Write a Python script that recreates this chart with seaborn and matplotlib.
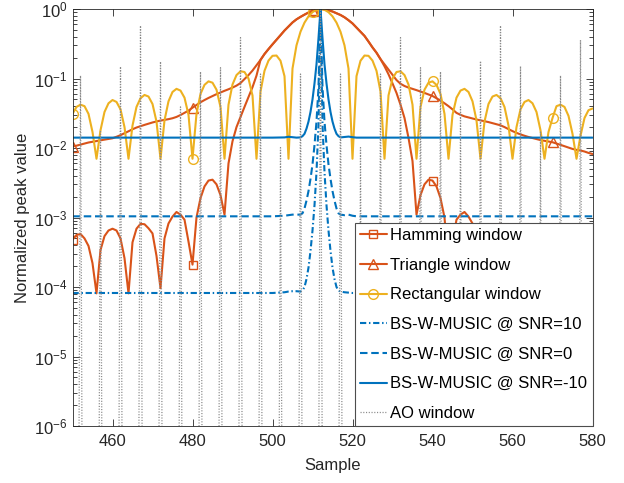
import numpy as np
import pandas as pd
import matplotlib
matplotlib.use("Agg")
import matplotlib.pyplot as plt
import seaborn as sns
from matplotlib.ticker import LogLocator, NullFormatter, FixedLocator, NullLocator

# ---- data ----
samples = np.arange(450, 581)

hamming = [
    4.8e-4, 5.6e-4, 5.8e-4, 5.0e-4, 3.9e-4, 2.2e-4, 8.1e-5, 3.4e-4, 5.4e-4, 6.5e-4,   # 450-459
    6.9e-4, 6.5e-4, 5.0e-4, 2.6e-4, 8.1e-5, 4.4e-4, 6.9e-4, 8.1e-4, 8.0e-4, 7.0e-4,   # 460-469
    5.9e-4, 2.8e-4, 9.6e-5, 5.0e-4, 8.2e-4, 1.03e-3, 1.2e-3, 1.1e-3, 9.3e-4, 4.5e-4,  # 470-479
    2.1e-4, 1.0e-3, 1.9e-3, 2.8e-3, 3.4e-3, 3.5e-3, 3.0e-3, 2.1e-3, 1.1e-3, 6.0e-3,   # 480-489
    1.25e-2, 2.0e-2, 2.8e-2, 3.9e-2, 5.4e-2, 7.5e-2, 0.11, 0.185, 0.225, 0.265,       # 490-499
    0.31, 0.36, 0.42, 0.49, 0.56, 0.64, 0.71, 0.77, 0.83, 0.89,                       # 500-509
    0.94, 0.98, 1.0, 0.99, 0.96, 0.92, 0.87, 0.82, 0.76, 0.69,                        # 510-519
    0.62, 0.54, 0.47, 0.41, 0.34, 0.28, 0.235, 0.19, 0.15, 0.115,                     # 520-529
    0.085, 0.062, 0.042, 0.027, 0.014, 0.0065, 1.1e-3, 2.1e-3, 3.0e-3, 3.5e-3,        # 530-539
    3.4e-3, 2.8e-3, 1.9e-3, 1.0e-3, 2.1e-4, 4.5e-4, 9.3e-4, 1.1e-3, 1.2e-3, 1.03e-3,  # 540-549
    8.2e-4, 5.0e-4, 9.6e-5, 2.8e-4, 5.9e-4, 7.0e-4, 8.0e-4, 8.1e-4, 6.9e-4, 4.4e-4,   # 550-559
    8.1e-5, 2.6e-4, 5.0e-4, 6.5e-4, 6.9e-4, 6.5e-4, 5.4e-4, 3.4e-4, 8.1e-5, 2.2e-4,   # 560-569
    3.9e-4, 5.0e-4, 5.8e-4, 5.6e-4, 4.8e-4, 3.0e-4, 8.0e-5, 2.5e-4, 4.0e-4, 4.8e-4,   # 570-579
    5.0e-4,                                                                             # 580
]

triangle = [
    0.0105, 0.0108, 0.0112, 0.0116, 0.0120, 0.0123, 0.0126, 0.0129, 0.0132, 0.0135,   # 450-459
    0.0138, 0.0145, 0.0153, 0.0163, 0.0174, 0.0186, 0.0197, 0.0206, 0.0215, 0.0224,   # 460-469
    0.0233, 0.0241, 0.0248, 0.0254, 0.0260, 0.0268, 0.0280, 0.0298, 0.0320, 0.0345,   # 470-479
    0.0380, 0.0415, 0.0455, 0.0490, 0.0525, 0.0560, 0.0595, 0.0630, 0.0665, 0.0700,   # 480-489
    0.0740, 0.0790, 0.0860, 0.0980, 0.112, 0.130, 0.155, 0.185, 0.225, 0.265,         # 490-499
    0.31, 0.36, 0.42, 0.49, 0.56, 0.64, 0.71, 0.77, 0.83, 0.89,                       # 500-509
    0.94, 0.98, 1.0, 0.99, 0.96, 0.92, 0.87, 0.82, 0.76, 0.69,                        # 510-519
    0.62, 0.54, 0.47, 0.41, 0.34, 0.28, 0.235, 0.19, 0.16, 0.135,                     # 520-529
    0.113, 0.095, 0.084, 0.078, 0.074, 0.071, 0.068, 0.065, 0.062, 0.059,             # 530-539
    0.056, 0.052, 0.048, 0.044, 0.040, 0.036, 0.032, 0.030, 0.0285, 0.0275,           # 540-549
    0.0265, 0.0257, 0.0250, 0.0243, 0.0236, 0.0228, 0.0220, 0.0212, 0.0200, 0.0187,   # 550-559
    0.0175, 0.0165, 0.0157, 0.0150, 0.0144, 0.0139, 0.0134, 0.0130, 0.0127, 0.0124,   # 560-569
    0.0121, 0.0116, 0.0111, 0.0106, 0.0101, 0.0097, 0.0094, 0.0092, 0.0089, 0.0085,   # 570-579
    0.0082,                                                                             # 580
]

rectangular = [
    0.031, 0.039, 0.042, 0.040, 0.031, 0.017, 0.007, 0.018, 0.033, 0.044,   # 450-459
    0.049, 0.046, 0.036, 0.020, 0.007, 0.021, 0.039, 0.052, 0.058, 0.055,   # 460-469
    0.043, 0.024, 0.007, 0.025, 0.047, 0.064, 0.071, 0.067, 0.053, 0.030,   # 470-479
    0.007, 0.031, 0.060, 0.081, 0.091, 0.087, 0.069, 0.039, 0.007, 0.042,   # 480-489
    0.082, 0.112, 0.127, 0.124, 0.100, 0.057, 0.007, 0.065, 0.129, 0.181,   # 490-499
    0.212, 0.214, 0.180, 0.108, 0.007, 0.139, 0.300, 0.471, 0.637, 0.784,   # 500-509
    0.900, 0.974, 1.000, 0.974, 0.900, 0.784, 0.637, 0.471, 0.300, 0.139,   # 510-519
    0.007, 0.108, 0.180, 0.214, 0.212, 0.181, 0.129, 0.065, 0.007, 0.057,   # 520-529
    0.100, 0.124, 0.127, 0.112, 0.082, 0.042, 0.007, 0.039, 0.069, 0.087,   # 530-539
    0.091, 0.081, 0.060, 0.031, 0.007, 0.030, 0.053, 0.067, 0.071, 0.064,   # 540-549
    0.047, 0.025, 0.007, 0.024, 0.043, 0.055, 0.058, 0.052, 0.039, 0.021,   # 550-559
    0.007, 0.020, 0.036, 0.046, 0.049, 0.044, 0.033, 0.018, 0.007, 0.017,   # 560-569
    0.027, 0.040, 0.042, 0.039, 0.029, 0.016, 0.007, 0.015, 0.027, 0.035,   # 570-579
    0.037,                                                                    # 580
]

music_x = [450, 480, 500, 503, 504, 505, 506, 507, 507.5, 508, 508.5, 509, 509.5,
           510, 510.5, 511, 511.5, 512, 512.5, 513, 513.5, 514, 514.5, 515, 515.5,
           516, 516.5, 517, 518, 519, 520, 521, 540, 580]
snr10 = [8.2e-5, 8.2e-5, 8.2e-5, 8.4e-5, 8.6e-5, 8.7e-5, 8.7e-5, 8.6e-5, 8.9e-5, 1.0e-4,
         1.3e-4, 1.9e-4, 3.3e-4, 6.5e-4, 1.5e-3, 4.5e-3, 0.022, 1.0, 0.022, 4.5e-3,
         1.5e-3, 6.5e-4, 3.3e-4, 1.9e-4, 1.3e-4, 1.0e-4, 8.9e-5, 8.6e-5, 8.4e-5, 8.3e-5,
         8.2e-5, 8.2e-5, 8.2e-5, 8.2e-5]
snr0 = [1.04e-3, 1.04e-3, 1.04e-3, 1.06e-3, 1.08e-3, 1.1e-3, 1.1e-3, 1.1e-3, 1.15e-3, 1.35e-3,
        1.75e-3, 2.4e-3, 3.6e-3, 5.8e-3, 0.011, 0.024, 0.075, 1.0, 0.075, 0.024,
        0.011, 5.8e-3, 3.6e-3, 2.4e-3, 1.75e-3, 1.35e-3, 1.15e-3, 1.1e-3, 1.08e-3, 1.1e-3,
        1.06e-3, 1.04e-3, 1.04e-3, 1.04e-3]
snr_m10 = [0.0141, 0.0141, 0.0141, 0.0142, 0.0145, 0.0143, 0.0141, 0.0142, 0.0148, 0.016,
           0.019, 0.024, 0.033, 0.05, 0.085, 0.16, 0.38, 1.0, 0.38, 0.16,
           0.085, 0.05, 0.033, 0.024, 0.019, 0.016, 0.0148, 0.0142, 0.0144, 0.0146,
           0.0143, 0.0141, 0.0141, 0.0141]

ao_pos = [452, 457, 462, 467, 472, 477, 482, 487, 492, 497, 502, 507, 512,
          517, 522, 527, 532, 537, 542, 547, 552, 557, 562, 567, 572, 577]
ao_peak = [0.110, 0.0172, 0.148, 0.575, 0.175, 0.039, 0.125, 0.143, 0.386, 0.116, 0.0101, 0.116, 1.0,
           0.116, 0.0101, 0.116, 0.386, 0.143, 0.125, 0.039, 0.178, 0.575, 0.150, 0.017, 0.110, 0.358]
ao_floor = 1e-15

marker_step = 30

# AO window as a full series: floor everywhere except at the AO peaks
ao = pd.Series(ao_floor, index=samples)
ao.loc[ao_pos] = ao_peak

orange = "#D95319"
yellow = "#EDB120"
blue = "#0072BD"
gray = "#8a8a8a"

sns.set_theme(style="ticks")
plt.rcParams["font.family"] = ["Liberation Sans", "DejaVu Sans"]
plt.rcParams["mathtext.fontset"] = "custom"
plt.rcParams["mathtext.rm"] = "Liberation Sans"
plt.rcParams["mathtext.it"] = "Liberation Sans:italic"

fig = plt.figure(figsize=(6.24, 4.83), dpi=100)
ax = fig.add_axes([72.5 / 624, 1 - 426 / 483, 520 / 624, 417 / 483])

lw = 1.5
sns.lineplot(x=samples, y=hamming, ax=ax, color=orange, lw=lw, errorbar=None,
             marker="s", markevery=marker_step, markersize=5.5, markerfacecolor="none",
             markeredgecolor=orange, markeredgewidth=1.0, label="Hamming window")
sns.lineplot(x=samples, y=triangle, ax=ax, color=orange, lw=lw, errorbar=None,
             marker="^", markevery=marker_step, markersize=7, markerfacecolor="none",
             markeredgecolor=orange, markeredgewidth=1.0, label="Triangle window")
sns.lineplot(x=samples, y=rectangular, ax=ax, color=yellow, lw=lw, errorbar=None,
             marker="o", markevery=marker_step, markersize=7, markerfacecolor="none",
             markeredgecolor=yellow, markeredgewidth=1.0, label="Rectangular window")
sns.lineplot(x=music_x, y=snr10, ax=ax, color=blue, lw=lw, errorbar=None,
             linestyle=(0, (3, 1.3, 0.7, 1.3)), label="BS-W-MUSIC @ SNR=10")
sns.lineplot(x=music_x, y=snr0, ax=ax, color=blue, lw=lw, errorbar=None,
             linestyle=(0, (3.6, 1.8)), label="BS-W-MUSIC @ SNR=0")
sns.lineplot(x=music_x, y=snr_m10, ax=ax, color=blue, lw=lw, errorbar=None,
             label="BS-W-MUSIC @ SNR=-10")
sns.lineplot(x=ao.index, y=ao.values, ax=ax, color=gray, lw=0.9, errorbar=None,
             linestyle=(0, (0.9, 1.3)), label="AO window")

ax.set_yscale("log")
ax.set_xlim(450, 580)
ax.set_ylim(1e-6, 1)
ax.xaxis.set_major_locator(FixedLocator([460, 480, 500, 520, 540, 560, 580]))
ax.xaxis.set_minor_locator(NullLocator())
ax.yaxis.set_major_locator(LogLocator(base=10, numticks=10))
ax.yaxis.set_minor_locator(LogLocator(base=10, subs=np.arange(2, 10), numticks=10))
ax.yaxis.set_minor_formatter(NullFormatter())

fs = 12
ink = "#262626"
ax.tick_params(which="both", direction="in", top=True, right=True, colors=ink,
               labelsize=fs, width=0.6)
ax.tick_params(which="major", length=5)
ax.tick_params(which="minor", length=3)
ax.tick_params(axis="x", pad=6)
for s in ax.spines.values():
    s.set_color(ink)
    s.set_linewidth(0.6)

ax.set_xlabel("Sample", fontsize=fs, color=ink, labelpad=6)
ax.set_ylabel("Normalized peak value", fontsize=fs, color=ink, labelpad=3)

leg = ax.legend(loc="lower right", borderaxespad=0, fontsize=fs, handlelength=1.65,
                handletextpad=0.2, labelspacing=0.88, borderpad=0.3, fancybox=False,
                framealpha=1, edgecolor="0.3", numpoints=1)
leg.get_frame().set_linewidth(0.8)
for t in leg.get_texts():
    t.set_color("black")

fig.savefig("out.png", dpi=100, facecolor="white")
